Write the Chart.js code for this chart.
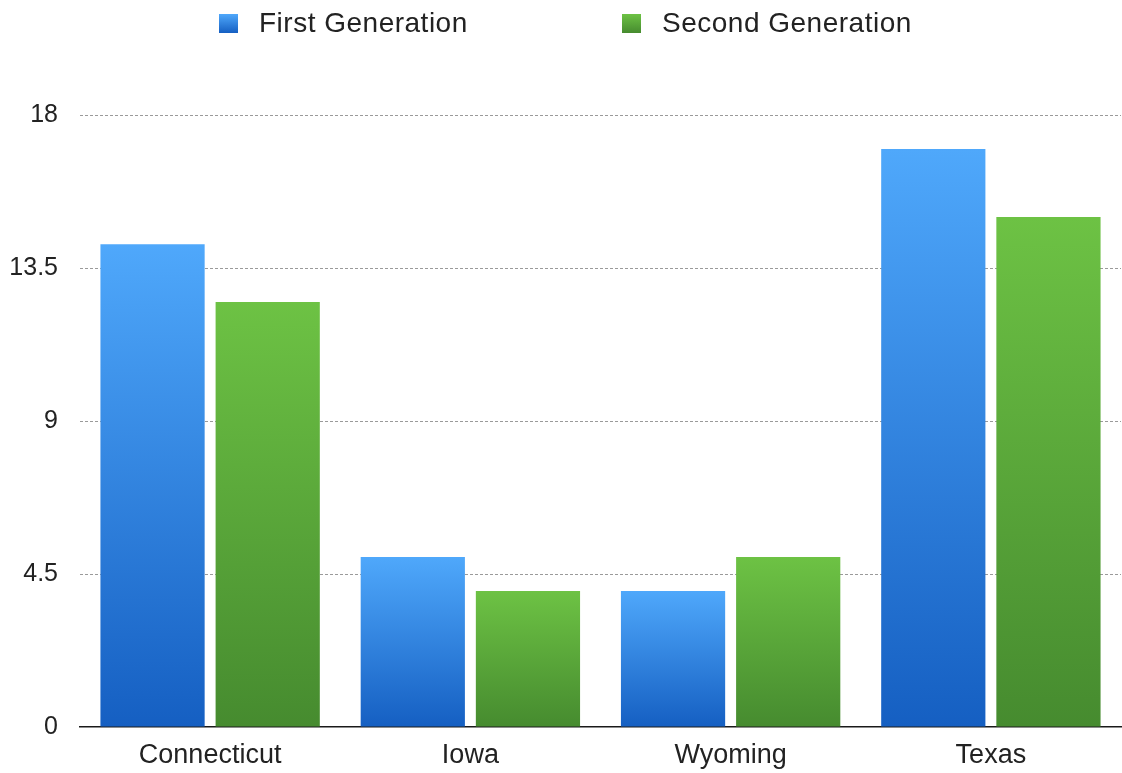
<!DOCTYPE html>
<html>
<head>
<meta charset="utf-8">
<title>First and Second Generation by State</title>
<script src="https://cdn.jsdelivr.net/npm/chart.js@4/dist/chart.umd.min.js"></script>
<style>
  html, body { margin: 0; padding: 0; background: #ffffff; }
  #wrap { position: relative; width: 1122px; height: 773px; }
  #chart { position: absolute; left: 0; top: 0; }
  .legend-item {
    position: absolute; top: 7px; display: flex; align-items: center;
    font-family: "Liberation Sans", Arial, sans-serif; font-size: 28px;
    color: #222; letter-spacing: 0.5px; white-space: nowrap;
  }
  .legend-item .swatch { width: 19px; height: 19px; margin-right: 21px; }
</style>
</head>
<body>
<div id="wrap">
  <canvas id="chart" width="1122" height="773"></canvas>
  <div class="legend-item" style="left:219px"><span class="swatch" id="sw0"></span><span id="lg0"></span></div>
  <div class="legend-item" style="left:622px"><span class="swatch" id="sw1"></span><span id="lg1"></span></div>
</div>
<script>
// Categories, series and axis ticks
const states = ["Connecticut", "Iowa", "Wyoming", "Texas"];
const firstGeneration = [14.2, 5, 4, 17];
const secondGeneration = [12.5, 4, 5, 15];
const yTicks = [0, 4.5, 9, 13.5, 18];
const seriesNames = ["First Generation", "Second Generation"];

// Light-to-dark vertical shading for each series
const shades = [
  { top: "#4fa8fb", bottom: "#155fc2" },
  { top: "#6dc244", bottom: "#468b2f" }
];

function barGradient(index) {
  return function (context) {
    const chart = context.chart;
    const shade = shades[index];
    if (!chart.chartArea || context.type !== "data") return shade.bottom;
    const y = chart.scales.y;
    const top = y.getPixelForValue(context.raw);
    const base = y.getPixelForValue(0);
    if (!isFinite(top) || !isFinite(base) || top === base) return shade.bottom;
    const g = chart.ctx.createLinearGradient(0, top, 0, base);
    g.addColorStop(0, shade.top);
    g.addColorStop(1, shade.bottom);
    return g;
  };
}

// HTML legend
seriesNames.forEach((name, i) => {
  document.getElementById("lg" + i).textContent = name;
  document.getElementById("sw" + i).style.background =
    "linear-gradient(" + shades[i].top + ", " + shades[i].bottom + ")";
});

const fontFamily = "'Liberation Sans', Arial, sans-serif";

new Chart(document.getElementById("chart"), {
  type: "bar",
  data: {
    labels: states,
    datasets: [
      {
        label: seriesNames[0],
        data: firstGeneration,
        backgroundColor: barGradient(0),
        categoryPercentage: 0.885,
        barPercentage: 0.905
      },
      {
        label: seriesNames[1],
        data: secondGeneration,
        backgroundColor: barGradient(1),
        categoryPercentage: 0.885,
        barPercentage: 0.905
      }
    ]
  },
  options: {
    responsive: false,
    animation: false,
    layout: { padding: { top: 115, right: 1, left: 0, bottom: 0 } },
    plugins: {
      legend: { display: false },
      tooltip: { enabled: false }
    },
    scales: {
      x: {
        afterFit: (axis) => { axis.height = 46; },
        grid: { display: false },
        border: { display: true, color: "#1a1a1a", width: 1.5 },
        ticks: {
          color: "#222",
          font: { family: fontFamily, size: 27 },
          padding: 4
        }
      },
      y: {
        min: 0,
        max: 18,
        afterBuildTicks: (axis) => { axis.ticks = yTicks.map(v => ({ value: v })); },
        afterFit: (axis) => { axis.width = 80; },
        border: { display: false, dash: [3, 2] },
        grid: {
          color: (c) => (c.tick && c.tick.value === 0 ? "rgba(0,0,0,0)" : "#9a9a9a"),
          lineWidth: 1,
          drawTicks: false
        },
        ticks: {
          color: "#222",
          font: { family: fontFamily, size: 25 },
          padding: 22,
          callback: (v) => String(v)
        }
      }
    }
  }
});
</script>
</body>
</html>
